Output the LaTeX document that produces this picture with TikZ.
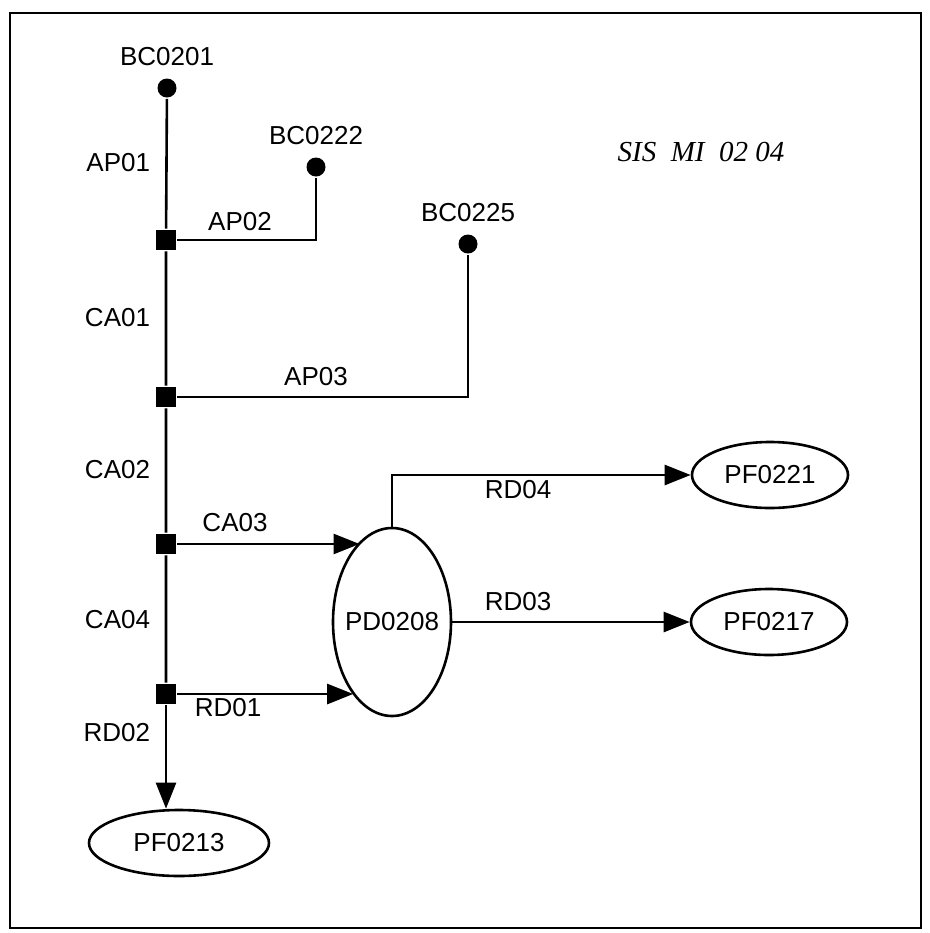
\documentclass[tikz,border=0pt]{standalone}
\usepackage{fontspec}
\setmainfont{Liberation Sans}
\newfontfamily\codefont{Liberation Serif}
\usetikzlibrary{arrows.meta, positioning, shapes.geometric}

\begin{document}
\begin{tikzpicture}[x=0.5pt, y=-0.5pt, line width=1.3pt,
    every node/.style={font=\fontsize{13}{15}\selectfont},
    dot/.style={circle, fill, inner sep=0pt, minimum size=9.5pt},
    junc/.style={rectangle, fill, inner sep=0pt, minimum size=10pt},
    proc/.style={ellipse, draw, inner sep=0pt, inner xsep=-6pt},
    flow/.style={-{Triangle[length=13pt, width=10pt]}}
]
\useasboundingbox (0,0) rectangle (930,933);
% Cadru
\draw[line width=1.2pt] (10,13) rectangle (921,928);
\node[font=\codefont\itshape\fontsize{14.5}{16}\selectfont] (title) at (701,152) {SIS\ \ MI\ \ 02 04};
% Surse si noduri
\foreach \n/\x/\y/\t in {bc0201/167/88/BC0201, bc0222/316/167/BC0222, bc0225/468/244/BC0225}
    \node[dot, label={[label distance=1.5pt]above:\t}] (\n) at (\x,\y) {};
\foreach \n/\y in {j1/240, j2/397, j3/544, j4/694}
    \node[junc] (\n) at (166,\y) {};
% Procese
\node[proc, minimum width=59pt, minimum height=94pt] (pd0208) at (392,622) {PD0208};
\node[proc, minimum width=78pt, minimum height=33pt] (pf0221) at (770,475) {PF0221};
\node[proc, minimum width=78pt, minimum height=33pt] (pf0217) at (769,622) {PF0217};
\node[proc, minimum width=90pt, minimum height=33pt] (pf0213) at (179,843) {PF0213};
% Legaturi
\draw (bc0201) -- (j1) -- (j2) -- (j3) -- (j4);
\draw (j1) -| (bc0222);
\draw (j2) -| (bc0225);
\draw[flow] (j3) -- (j3 -| pd0208.112);
\draw[flow] (j4) -- (j4 -| pd0208.242);
\draw[flow] (j4) -- (j4 |- pf0213.north);
\draw[flow] (pd0208.north) |- (pf0221);
\draw[flow] (pd0208) -- (pf0217);
% Etichete
\foreach \n/\y/\t in {lap01/163/AP01, lca01/318/CA01, lca02/470/CA02, lca04/620/CA04, lrd02/733/RD02}
    \node[anchor=east] (\n) at (158,\y) {\t};
\foreach \n/\x/\y/\t in {lap02/240/222/AP02, lap03/316/377/AP03, lca03/235/523/CA03,
    lrd01/228/708/RD01, lrd04/518/490/RD04, lrd03/518/602/RD03}
    \node (\n) at (\x,\y) {\t};
\end{tikzpicture}
\end{document}
